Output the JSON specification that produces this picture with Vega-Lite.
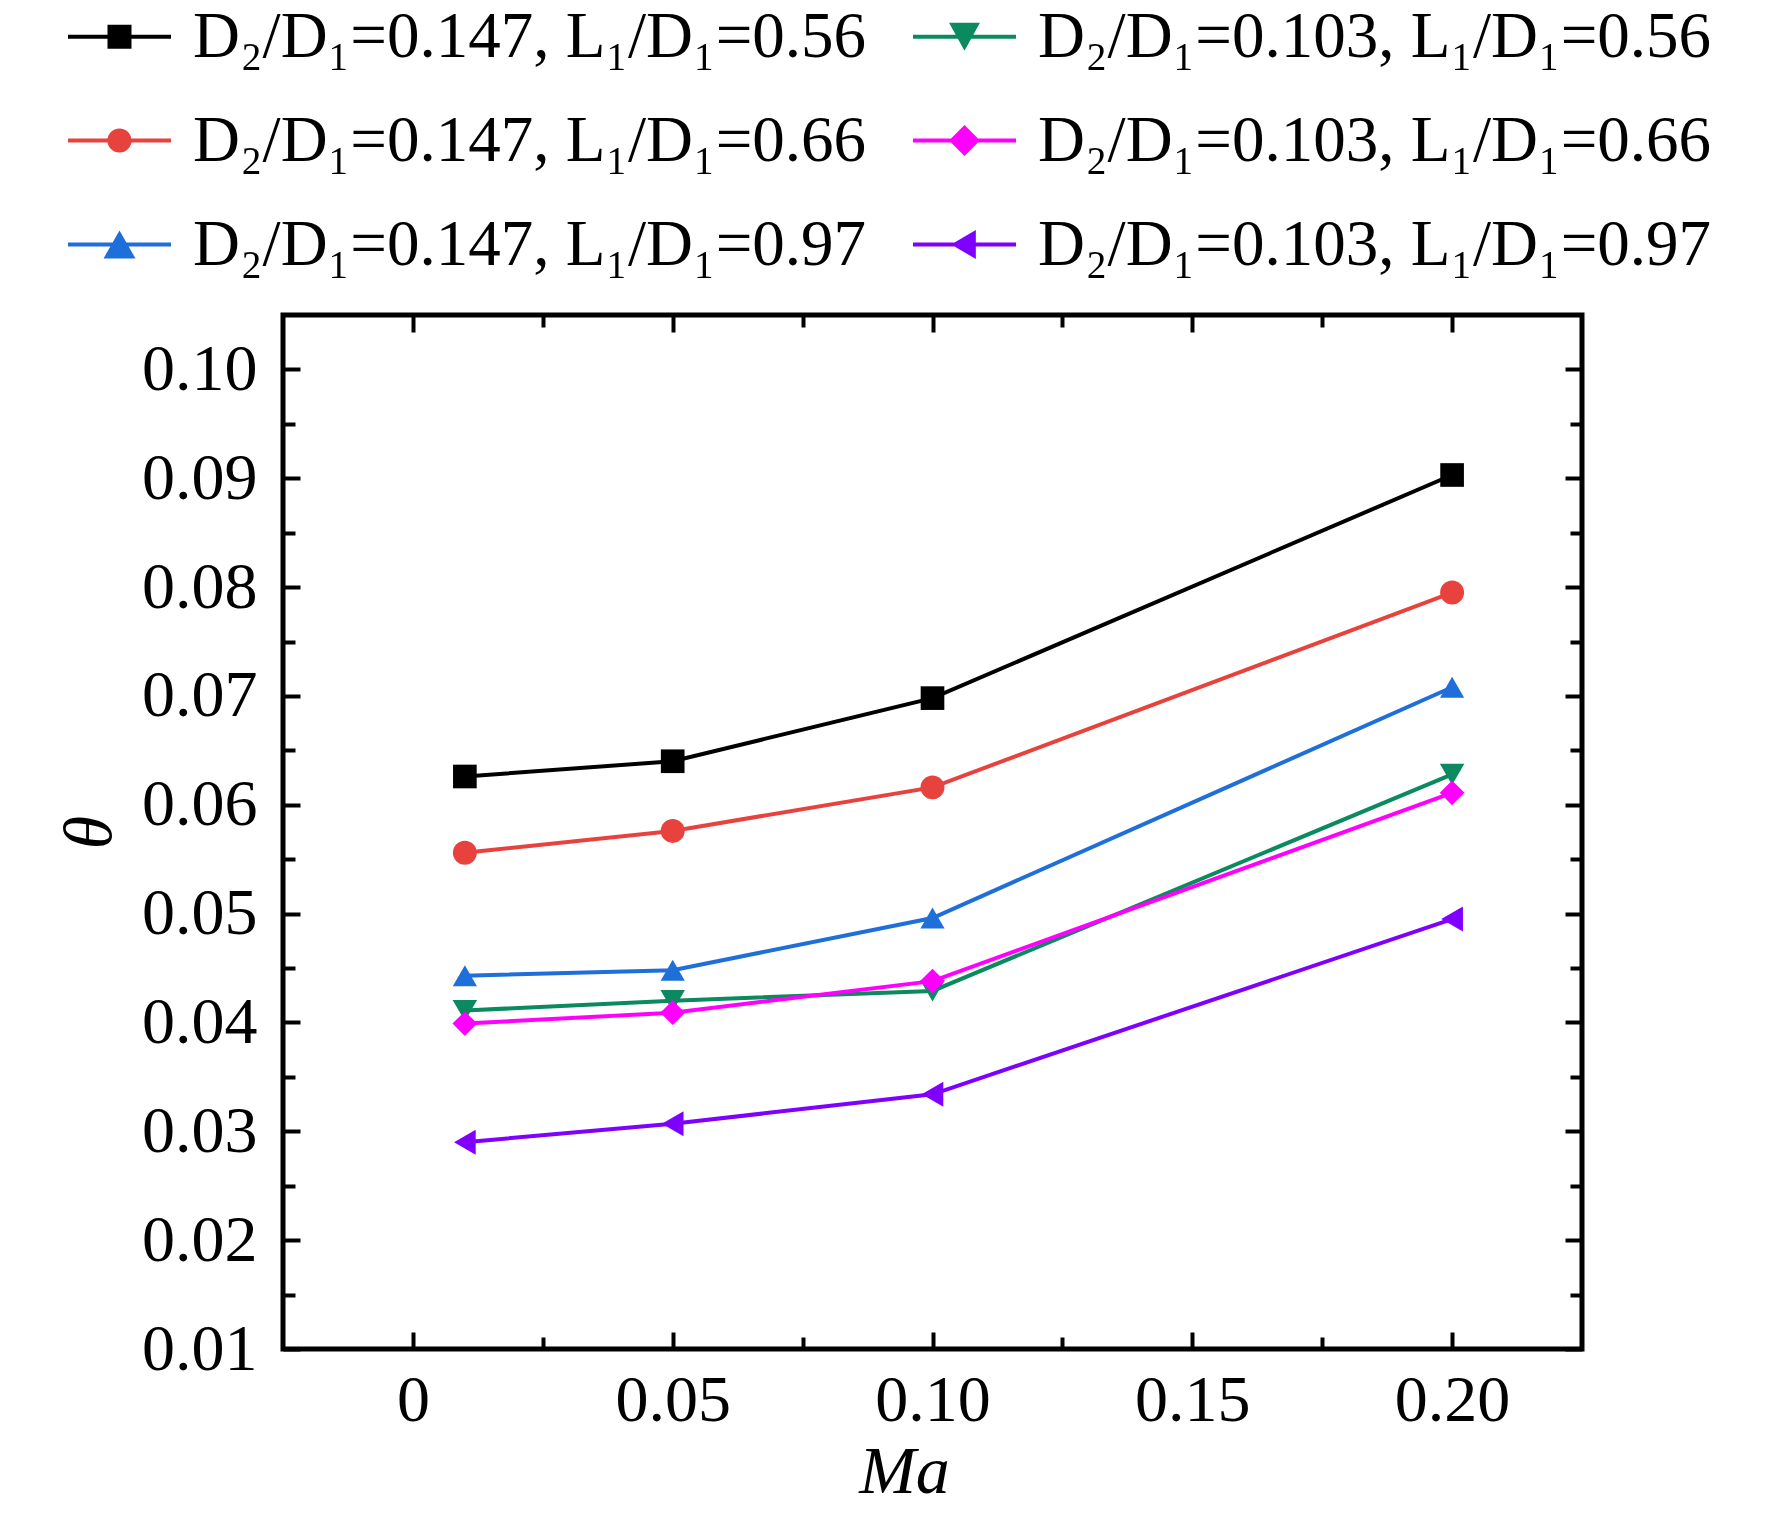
{
  "$schema": "https://vega.github.io/schema/vega-lite/v6.json",
  "width": 1299,
  "height": 1034,
  "autosize": {"type": "none"},
  "padding": {"left": 283, "top": 315, "right": 190, "bottom": 166},
  "background": "white",
  "config": {
    "view": {"stroke": "black", "strokeWidth": 5},
    "font": "Liberation Serif",
    "axis": {
      "grid": false,
      "domain": false,
      "tickColor": "black",
      "tickWidth": 4,
      "labelFont": "Liberation Serif",
      "labelFontSize": 66,
      "labelColor": "black",
      "labelFlush": false,
      "labelOverlap": false,
      "titleFont": "Liberation Serif",
      "titleFontSize": 68,
      "titleFontWeight": "normal",
      "titleFontStyle": "italic",
      "titleColor": "black"
    }
  },
  "data": {
    "values": [
      {"series": "D₂/D₁=0.147, L₁/D₁=0.56", "Ma": 0.01, "theta": 0.0626},
      {"series": "D₂/D₁=0.147, L₁/D₁=0.56", "Ma": 0.05, "theta": 0.0640},
      {"series": "D₂/D₁=0.147, L₁/D₁=0.56", "Ma": 0.10, "theta": 0.0698},
      {"series": "D₂/D₁=0.147, L₁/D₁=0.56", "Ma": 0.20, "theta": 0.0903},
      {"series": "D₂/D₁=0.147, L₁/D₁=0.66", "Ma": 0.01, "theta": 0.0556},
      {"series": "D₂/D₁=0.147, L₁/D₁=0.66", "Ma": 0.05, "theta": 0.0576},
      {"series": "D₂/D₁=0.147, L₁/D₁=0.66", "Ma": 0.10, "theta": 0.0616},
      {"series": "D₂/D₁=0.147, L₁/D₁=0.66", "Ma": 0.20, "theta": 0.0795},
      {"series": "D₂/D₁=0.147, L₁/D₁=0.97", "Ma": 0.01, "theta": 0.0443},
      {"series": "D₂/D₁=0.147, L₁/D₁=0.97", "Ma": 0.05, "theta": 0.0448},
      {"series": "D₂/D₁=0.147, L₁/D₁=0.97", "Ma": 0.10, "theta": 0.0496},
      {"series": "D₂/D₁=0.147, L₁/D₁=0.97", "Ma": 0.20, "theta": 0.0708},
      {"series": "D₂/D₁=0.103, L₁/D₁=0.56", "Ma": 0.01, "theta": 0.0411},
      {"series": "D₂/D₁=0.103, L₁/D₁=0.56", "Ma": 0.05, "theta": 0.0420},
      {"series": "D₂/D₁=0.103, L₁/D₁=0.56", "Ma": 0.10, "theta": 0.0429},
      {"series": "D₂/D₁=0.103, L₁/D₁=0.56", "Ma": 0.20, "theta": 0.0628},
      {"series": "D₂/D₁=0.103, L₁/D₁=0.66", "Ma": 0.01, "theta": 0.0399},
      {"series": "D₂/D₁=0.103, L₁/D₁=0.66", "Ma": 0.05, "theta": 0.0409},
      {"series": "D₂/D₁=0.103, L₁/D₁=0.66", "Ma": 0.10, "theta": 0.0438},
      {"series": "D₂/D₁=0.103, L₁/D₁=0.66", "Ma": 0.20, "theta": 0.0611},
      {"series": "D₂/D₁=0.103, L₁/D₁=0.97", "Ma": 0.01, "theta": 0.0290},
      {"series": "D₂/D₁=0.103, L₁/D₁=0.97", "Ma": 0.05, "theta": 0.0307},
      {"series": "D₂/D₁=0.103, L₁/D₁=0.97", "Ma": 0.10, "theta": 0.0334},
      {"series": "D₂/D₁=0.103, L₁/D₁=0.97", "Ma": 0.20, "theta": 0.0495}
    ]
  },
  "layer": [
    {
      "mark": {"type": "line", "strokeWidth": 4},
      "encoding": {
        "x": {
          "field": "Ma", "type": "quantitative",
          "scale": {"domain": [-0.025, 0.225], "nice": false, "zero": false},
          "axis": {
            "orient": "bottom",
            "values": [0, 0.05, 0.1, 0.15, 0.2],
            "tickSize": -17,
            "labelPadding": 36,
            "labelExpr": "datum.value == 0 ? '0' : format(datum.value, '.2f')",
            "title": "Ma",
            "titlePadding": 5,
            "titleX": 621
          }
        },
        "y": {
          "field": "theta", "type": "quantitative",
          "scale": {"domain": [0.01, 0.105], "nice": false, "zero": false},
          "axis": {
            "orient": "left",
            "values": [0.01, 0.02, 0.03, 0.04, 0.05, 0.06, 0.07, 0.08, 0.09, 0.1],
            "format": ".2f",
            "tickSize": -17,
            "labelPadding": 43,
            "title": "θ",
            "titlePadding": 17
          }
        },
        "color": {
          "field": "series", "type": "nominal", "legend": null,
          "scale": {
            "domain": ["D₂/D₁=0.147, L₁/D₁=0.56", "D₂/D₁=0.147, L₁/D₁=0.66", "D₂/D₁=0.147, L₁/D₁=0.97", "D₂/D₁=0.103, L₁/D₁=0.56", "D₂/D₁=0.103, L₁/D₁=0.66", "D₂/D₁=0.103, L₁/D₁=0.97"],
            "range": ["#000000", "#E8423F", "#1F6FDB", "#0A8A5E", "#FF00FF", "#7F00FF"]
          }
        }
      }
    },
    {
      "mark": {"type": "point", "filled": true, "opacity": 1, "strokeWidth": 0},
      "encoding": {
        "x": {
          "field": "Ma", "type": "quantitative",
          "axis": {"orient": "top", "values": [0, 0.05, 0.1, 0.15, 0.2], "tickSize": -17, "labels": false, "title": null}
        },
        "y": {
          "field": "theta", "type": "quantitative",
          "axis": {"orient": "right", "values": [0.01, 0.02, 0.03, 0.04, 0.05, 0.06, 0.07, 0.08, 0.09, 0.1], "tickSize": -17, "labels": false, "title": null}
        },
        "color": {
          "field": "series", "type": "nominal", "legend": null,
          "scale": {
            "domain": ["D₂/D₁=0.147, L₁/D₁=0.56", "D₂/D₁=0.147, L₁/D₁=0.66", "D₂/D₁=0.147, L₁/D₁=0.97", "D₂/D₁=0.103, L₁/D₁=0.56", "D₂/D₁=0.103, L₁/D₁=0.66", "D₂/D₁=0.103, L₁/D₁=0.97"],
            "range": ["#000000", "#E8423F", "#1F6FDB", "#0A8A5E", "#FF00FF", "#7F00FF"]
          }
        },
        "shape": {
          "field": "series", "type": "nominal", "legend": null,
          "scale": {
            "domain": ["D₂/D₁=0.147, L₁/D₁=0.56", "D₂/D₁=0.147, L₁/D₁=0.66", "D₂/D₁=0.147, L₁/D₁=0.97", "D₂/D₁=0.103, L₁/D₁=0.56", "D₂/D₁=0.103, L₁/D₁=0.66", "D₂/D₁=0.103, L₁/D₁=0.97"],
            "range": ["square", "circle", "triangle-up", "triangle-down", "diamond", "triangle-left"]
          }
        },
        "size": {
          "field": "series", "type": "nominal", "legend": null,
          "scale": {
            "domain": ["D₂/D₁=0.147, L₁/D₁=0.56", "D₂/D₁=0.147, L₁/D₁=0.66", "D₂/D₁=0.147, L₁/D₁=0.97", "D₂/D₁=0.103, L₁/D₁=0.56", "D₂/D₁=0.103, L₁/D₁=0.66", "D₂/D₁=0.103, L₁/D₁=0.97"],
            "range": [560, 625, 961, 900, 1000, 900]
          }
        }
      }
    },
    {
      "transform": [{"filter": "false"}],
      "mark": {"type": "point", "filled": true, "opacity": 1, "strokeWidth": 0, "size": 10609},
      "encoding": {
        "x": {
          "field": "Ma", "type": "quantitative",
          "axis": {"orient": "bottom", "values": [0.025, 0.075, 0.125, 0.175], "tickSize": -12, "labels": false, "title": null}
        },
        "y": {
          "field": "theta", "type": "quantitative",
          "axis": {"orient": "left", "values": [0.015, 0.025, 0.035, 0.045, 0.055, 0.065, 0.075, 0.085, 0.095], "tickSize": -12, "labels": false, "title": null}
        },
        "color": {
          "field": "series", "type": "nominal",
          "scale": {
            "domain": ["D₂/D₁=0.147, L₁/D₁=0.56", "D₂/D₁=0.147, L₁/D₁=0.66", "D₂/D₁=0.147, L₁/D₁=0.97", "D₂/D₁=0.103, L₁/D₁=0.56", "D₂/D₁=0.103, L₁/D₁=0.66", "D₂/D₁=0.103, L₁/D₁=0.97"],
            "range": ["#000000", "#E8423F", "#1F6FDB", "#0A8A5E", "#FF00FF", "#7F00FF"]
          },
          "legend": {
            "orient": "none", "legendX": -215, "legendY": -330, "columns": 2, "title": null,
            "labelFont": "Liberation Serif", "labelFontSize": 65, "labelColor": "black", "labelLimit": 1500,
            "labelOffset": 22, "columnPadding": 46, "rowPadding": 19, "symbolSize": 10609, "symbolStrokeWidth": 0,
            "symbolOpacity": 1, "padding": 0
          }
        },
        "shape": {
          "field": "series", "type": "nominal",
          "scale": {
            "domain": ["D₂/D₁=0.147, L₁/D₁=0.56", "D₂/D₁=0.147, L₁/D₁=0.66", "D₂/D₁=0.147, L₁/D₁=0.97", "D₂/D₁=0.103, L₁/D₁=0.56", "D₂/D₁=0.103, L₁/D₁=0.66", "D₂/D₁=0.103, L₁/D₁=0.97"],
            "range": [
              "M-1,-0.04H1V0.04H-1Z M-0.233,-0.233H0.233V0.233H-0.233Z",
              "M-1,-0.04H1V0.04H-1Z M0.235,0A0.235,0.235 0 1,1 -0.235,0A0.235,0.235 0 1,1 0.235,0Z",
              "M-1,-0.04H1V0.04H-1Z M0,-0.27L0.31,0.27L-0.31,0.27Z",
              "M-1,-0.04H1V0.04H-1Z M-0.3,-0.27L0.3,-0.27L0,0.27Z",
              "M-1,-0.04H1V0.04H-1Z M0,-0.3L0.3,0L0,0.3L-0.3,0Z",
              "M-1,-0.04H1V0.04H-1Z M-0.26,0L0.22,-0.28L0.22,0.28Z"
            ]
          },
          "legend": {
            "orient": "none", "legendX": -215, "legendY": -330, "columns": 2, "title": null,
            "labelFont": "Liberation Serif", "labelFontSize": 65, "labelColor": "black", "labelLimit": 1500,
            "labelOffset": 22, "columnPadding": 46, "rowPadding": 19, "symbolSize": 10609, "symbolStrokeWidth": 0,
            "symbolOpacity": 1, "padding": 0
          }
        }
      }
    },
    {
      "transform": [{"filter": "false"}],
      "mark": {"type": "point", "opacity": 0},
      "encoding": {
        "x": {
          "field": "Ma", "type": "quantitative",
          "axis": {"orient": "top", "values": [0.025, 0.075, 0.125, 0.175], "tickSize": -12, "labels": false, "title": null}
        },
        "y": {
          "field": "theta", "type": "quantitative",
          "axis": {"orient": "right", "values": [0.015, 0.025, 0.035, 0.045, 0.055, 0.065, 0.075, 0.085, 0.095], "tickSize": -12, "labels": false, "title": null}
        }
      }
    }
  ],
  "resolve": {
    "scale": {"color": "independent", "shape": "independent", "size": "independent"},
    "axis": {"x": "independent", "y": "independent"}
  }
}
